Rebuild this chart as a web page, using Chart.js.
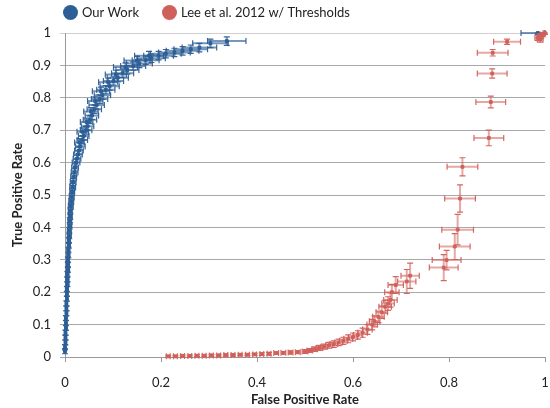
<!DOCTYPE html>
<html>
<head>
<meta charset="utf-8">
<script src="https://cdn.jsdelivr.net/npm/chart.js@4"></script>
<style>
  body { margin: 0; background: #fff; }
</style>
</head>
<body>
<canvas id="roc" width="550" height="408"></canvas>
<script>
'use strict';

// series names
const seriesNames = ['Our Work', 'Lee et al. 2012 w/ Thresholds'];

// tick labels
const xTickLabels = ['0', '0.2', '0.4', '0.6', '0.8', '1'];
const yTickLabels = ['0', '0.1', '0.2', '0.3', '0.4', '0.5', '0.6', '0.7', '0.8', '0.9', '1'];

// Our Work: false positive rate, true positive rate and error
const blueX = [0.000, 0.000, 0.001, 0.001, 0.001, 0.002, 0.002, 0.002, 0.003, 0.003,
  0.003, 0.004, 0.004, 0.004, 0.005, 0.005, 0.005, 0.006, 0.006, 0.006,
  0.007, 0.007, 0.008, 0.008, 0.009, 0.009, 0.010, 0.010, 0.011, 0.011,
  0.012, 0.013, 0.014, 0.015, 0.016, 0.017, 0.018, 0.020, 0.021, 0.023,
  0.025, 0.027, 0.029, 0.032, 0.030, 0.036, 0.039, 0.037, 0.044, 0.047,
  0.045, 0.052, 0.056, 0.054, 0.061, 0.066, 0.063, 0.072, 0.078, 0.075,
  0.085, 0.093, 0.090, 0.101, 0.110, 0.106, 0.120, 0.130, 0.126, 0.142,
  0.155, 0.150, 0.168, 0.180, 0.175, 0.195, 0.210, 0.228, 0.245, 0.262,
  0.280, 0.303, 0.337, 0.985];
const blueY = [0.018, 0.030, 0.045, 0.060, 0.075, 0.090, 0.105, 0.120, 0.135, 0.150,
  0.165, 0.180, 0.195, 0.210, 0.225, 0.240, 0.255, 0.270, 0.285, 0.300,
  0.315, 0.330, 0.345, 0.360, 0.375, 0.390, 0.405, 0.420, 0.435, 0.450,
  0.465, 0.480, 0.495, 0.510, 0.525, 0.540, 0.555, 0.570, 0.585, 0.600,
  0.612, 0.625, 0.637, 0.650, 0.662, 0.670, 0.682, 0.695, 0.700, 0.712,
  0.725, 0.732, 0.745, 0.758, 0.765, 0.778, 0.790, 0.796, 0.808, 0.820,
  0.825, 0.836, 0.848, 0.852, 0.862, 0.872, 0.876, 0.886, 0.895, 0.898,
  0.906, 0.915, 0.916, 0.922, 0.930, 0.930, 0.936, 0.940, 0.945, 0.950,
  0.955, 0.968, 0.975, 1.000];
const blueEx = [0.002, 0.002, 0.002, 0.002, 0.002, 0.002, 0.002, 0.002, 0.002, 0.002,
  0.002, 0.002, 0.002, 0.003, 0.003, 0.003, 0.003, 0.003, 0.003, 0.003,
  0.003, 0.003, 0.003, 0.003, 0.004, 0.004, 0.004, 0.004, 0.004, 0.004,
  0.005, 0.005, 0.005, 0.005, 0.006, 0.006, 0.006, 0.007, 0.007, 0.008,
  0.008, 0.009, 0.009, 0.010, 0.010, 0.011, 0.011, 0.012, 0.012, 0.013,
  0.013, 0.014, 0.014, 0.015, 0.015, 0.016, 0.016, 0.017, 0.017, 0.018,
  0.019, 0.020, 0.020, 0.021, 0.022, 0.022, 0.023, 0.024, 0.025, 0.026,
  0.027, 0.027, 0.028, 0.029, 0.030, 0.031, 0.032, 0.033, 0.034, 0.035,
  0.036, 0.037, 0.040, 0.035];
const blueEy = [0.008, 0.008, 0.008, 0.008, 0.008, 0.008, 0.008, 0.008, 0.008, 0.008,
  0.008, 0.008, 0.008, 0.008, 0.008, 0.009, 0.009, 0.009, 0.009, 0.009,
  0.009, 0.009, 0.009, 0.009, 0.010, 0.010, 0.010, 0.010, 0.010, 0.010,
  0.010, 0.010, 0.010, 0.010, 0.010, 0.011, 0.011, 0.011, 0.011, 0.011,
  0.011, 0.011, 0.011, 0.011, 0.012, 0.012, 0.012, 0.012, 0.012, 0.012,
  0.012, 0.012, 0.012, 0.012, 0.013, 0.013, 0.013, 0.013, 0.013, 0.013,
  0.013, 0.013, 0.013, 0.013, 0.013, 0.013, 0.013, 0.013, 0.013, 0.013,
  0.013, 0.013, 0.013, 0.013, 0.013, 0.013, 0.013, 0.013, 0.013, 0.013,
  0.013, 0.013, 0.013, 0.004];

// Lee et al. 2012 w/ Thresholds
const redX = [0.215, 0.230, 0.245, 0.260, 0.275, 0.290, 0.305, 0.320, 0.335, 0.350,
  0.365, 0.380, 0.395, 0.410, 0.425, 0.440, 0.455, 0.470, 0.485, 0.500,
  0.510, 0.520, 0.530, 0.540, 0.550, 0.560, 0.570, 0.580, 0.590, 0.600,
  0.610, 0.620, 0.630, 0.640, 0.645, 0.653, 0.660, 0.667, 0.673, 0.678,
  0.681, 0.689, 0.712, 0.719, 0.789, 0.795, 0.812, 0.818, 0.823, 0.828,
  0.883, 0.887, 0.890, 0.891, 0.921, 0.985, 0.990, 0.995, 1.000, 0.990];
const redY = [0.002, 0.002, 0.003, 0.003, 0.004, 0.004, 0.005, 0.005, 0.006, 0.006,
  0.007, 0.007, 0.008, 0.009, 0.010, 0.012, 0.013, 0.014, 0.015, 0.017,
  0.020, 0.024, 0.028, 0.032, 0.036, 0.040, 0.045, 0.050, 0.056, 0.062,
  0.068, 0.075, 0.085, 0.100, 0.110, 0.124, 0.138, 0.155, 0.165, 0.176,
  0.200, 0.222, 0.233, 0.251, 0.276, 0.299, 0.341, 0.393, 0.489, 0.587,
  0.676, 0.787, 0.875, 0.939, 0.973, 0.985, 0.990, 0.995, 1.000, 0.980];
const redEx = [0.004, 0.004, 0.004, 0.004, 0.004, 0.004, 0.004, 0.004, 0.004, 0.004,
  0.004, 0.004, 0.004, 0.004, 0.004, 0.005, 0.005, 0.005, 0.005, 0.006,
  0.006, 0.006, 0.007, 0.007, 0.007, 0.008, 0.008, 0.008, 0.009, 0.009,
  0.009, 0.010, 0.010, 0.011, 0.011, 0.012, 0.012, 0.013, 0.013, 0.014,
  0.015, 0.016, 0.019, 0.019, 0.030, 0.030, 0.032, 0.033, 0.032, 0.032,
  0.031, 0.031, 0.031, 0.032, 0.028, 0.006, 0.006, 0.005, 0.004, 0.006];
const redEy = [0.003, 0.003, 0.003, 0.003, 0.003, 0.003, 0.003, 0.003, 0.003, 0.003,
  0.003, 0.003, 0.003, 0.004, 0.004, 0.004, 0.004, 0.005, 0.005, 0.006,
  0.006, 0.007, 0.008, 0.008, 0.009, 0.010, 0.010, 0.011, 0.012, 0.012,
  0.013, 0.014, 0.015, 0.016, 0.017, 0.018, 0.019, 0.020, 0.021, 0.022,
  0.024, 0.026, 0.037, 0.039, 0.040, 0.030, 0.040, 0.047, 0.042, 0.028,
  0.024, 0.018, 0.014, 0.010, 0.008, 0.008, 0.008, 0.006, 0.004, 0.008];

const blueColor = '#2d5f96';
const redColor = '#d0605b';

function makePoints(xs, ys, exs, eys) {
  const pts = [];
  for (let i = 0; i < xs.length; i++) {
    pts.push({ x: xs[i], y: ys[i], ex: exs[i], ey: eys[i] });
  }
  return pts;
}

// draws the x and y error bars of a dataset just before its points
const errorBars = {
  id: 'errorBars',
  beforeDatasetDraw(chart, args) {
    const ds = chart.data.datasets[args.index];
    const xs = chart.scales.x;
    const ys = chart.scales.y;
    const ctx = chart.ctx;
    const cap = 3;
    ctx.save();
    ds.data.forEach(function (p) {
      const cx = xs.getPixelForValue(p.x);
      const cy = ys.getPixelForValue(p.y);
      const x0 = xs.getPixelForValue(p.x - p.ex);
      const x1 = xs.getPixelForValue(Math.min(p.x + p.ex, 1));
      const y0 = ys.getPixelForValue(Math.max(p.y - p.ey, 0));
      const y1 = ys.getPixelForValue(Math.min(p.y + p.ey, 1));
      ctx.strokeStyle = ds.errLine;
      ctx.lineWidth = 2;
      ctx.beginPath();
      ctx.moveTo(x0, cy); ctx.lineTo(x1, cy);
      ctx.moveTo(cx, y0); ctx.lineTo(cx, y1);
      ctx.stroke();
      ctx.strokeStyle = ds.errCap;
      ctx.lineWidth = 1.2;
      ctx.beginPath();
      ctx.moveTo(x0, cy - cap); ctx.lineTo(x0, cy + cap);
      ctx.moveTo(x1, cy - cap); ctx.lineTo(x1, cy + cap);
      ctx.moveTo(cx - cap, y0); ctx.lineTo(cx + cap, y0);
      ctx.moveTo(cx - cap, y1); ctx.lineTo(cx + cap, y1);
      ctx.stroke();
    });
    ctx.restore();
  }
};

// legend drawn at the top left like the original
const topLegend = {
  id: 'topLegend',
  afterDraw(chart) {
    const ctx = chart.ctx;
    const items = [
      { x: 70.5, color: blueColor, text: seriesNames[0] },
      { x: 169.5, color: redColor, text: seriesNames[1] }
    ];
    ctx.save();
    ctx.font = '13px Lato, "Open Sans", sans-serif';
    ctx.textBaseline = 'middle';
    items.forEach(function (it) {
      ctx.fillStyle = it.color;
      ctx.beginPath();
      ctx.arc(it.x, 12.5, 7.5, 0, Math.PI * 2);
      ctx.fill();
      ctx.fillStyle = '#222';
      ctx.fillText(it.text, it.x + 11.5, 13);
    });
    ctx.restore();
  }
};

const ctx = document.getElementById('roc').getContext('2d');

const chart = new Chart(ctx, {
  type: 'scatter',
  data: {
    datasets: [{
      label: seriesNames[0],
      data: makePoints(blueX, blueY, blueEx, blueEy),
      backgroundColor: blueColor,
      borderColor: blueColor,
      pointStyle: 'rect',
      pointRadius: 2,
      errLine: 'rgba(45, 95, 150, 0.65)',
      errCap: 'rgba(45, 95, 150, 0.95)',
      order: 2,
      clip: false
    },
    {
      label: seriesNames[1],
      data: makePoints(redX, redY, redEx, redEy),
      backgroundColor: redColor,
      borderColor: redColor,
      pointStyle: 'rect',
      pointRadius: 2,
      errLine: 'rgba(208, 96, 91, 0.55)',
      errCap: 'rgba(208, 96, 91, 0.95)',
      order: 1,
      clip: false
    }]
  },
  options: {
    responsive: false,
    animation: false,
    devicePixelRatio: 1,
    layout: {
      padding: { top: 33, right: 1, bottom: 0, left: 0 }
    },
    plugins: {
      legend: { display: false },
      tooltip: { enabled: false }
    },
    scales: {
      x: {
        type: 'linear',
        min: 0,
        max: 1,
        afterFit(scale) {
          scale.height = 51;
          scale.paddingLeft = 0;
          scale.paddingRight = 0;
        },
        afterBuildTicks(scale) {
          scale.ticks = xTickLabels.map(function (t) { return { value: Number(t) }; });
        },
        ticks: {
          padding: 13,
          color: '#222',
          font: { family: 'Lato, "Open Sans", sans-serif', size: 13 },
          callback: function (v, i) { return xTickLabels[i]; }
        },
        grid: {
          drawOnChartArea: false,
          drawTicks: true,
          tickLength: 5,
          color: '#999'
        },
        border: { display: true, color: '#999' },
        title: {
          display: true,
          text: 'False Positive Rate',
          color: '#222',
          font: { family: 'Lato, "Open Sans", sans-serif', size: 13, weight: 'bold' },
          padding: { top: 0, bottom: 0 }
        }
      },
      y: {
        type: 'linear',
        min: 0,
        max: 1,
        afterFit(scale) {
          scale.width = 65;
          scale.paddingTop = 0;
          scale.paddingBottom = 0;
        },
        afterBuildTicks(scale) {
          scale.ticks = yTickLabels.map(function (t) { return { value: Number(t) }; });
        },
        ticks: {
          padding: 9,
          color: '#222',
          font: { family: 'Lato, "Open Sans", sans-serif', size: 13 },
          callback: function (v, i) { return yTickLabels[i]; }
        },
        grid: {
          drawTicks: true,
          tickLength: 5,
          color: function (c) { return c.index === 10 ? '#cfcfcf' : '#a8a8a8'; }
        },
        border: { display: true, color: '#999' },
        title: {
          display: true,
          text: 'True Positive Rate',
          color: '#222',
          font: { family: 'Lato, "Open Sans", sans-serif', size: 13, weight: 'bold' },
          padding: { top: 10, bottom: 0 }
        }
      }
    }
  },
  plugins: [errorBars, topLegend]
});
</script>
</body>
</html>
